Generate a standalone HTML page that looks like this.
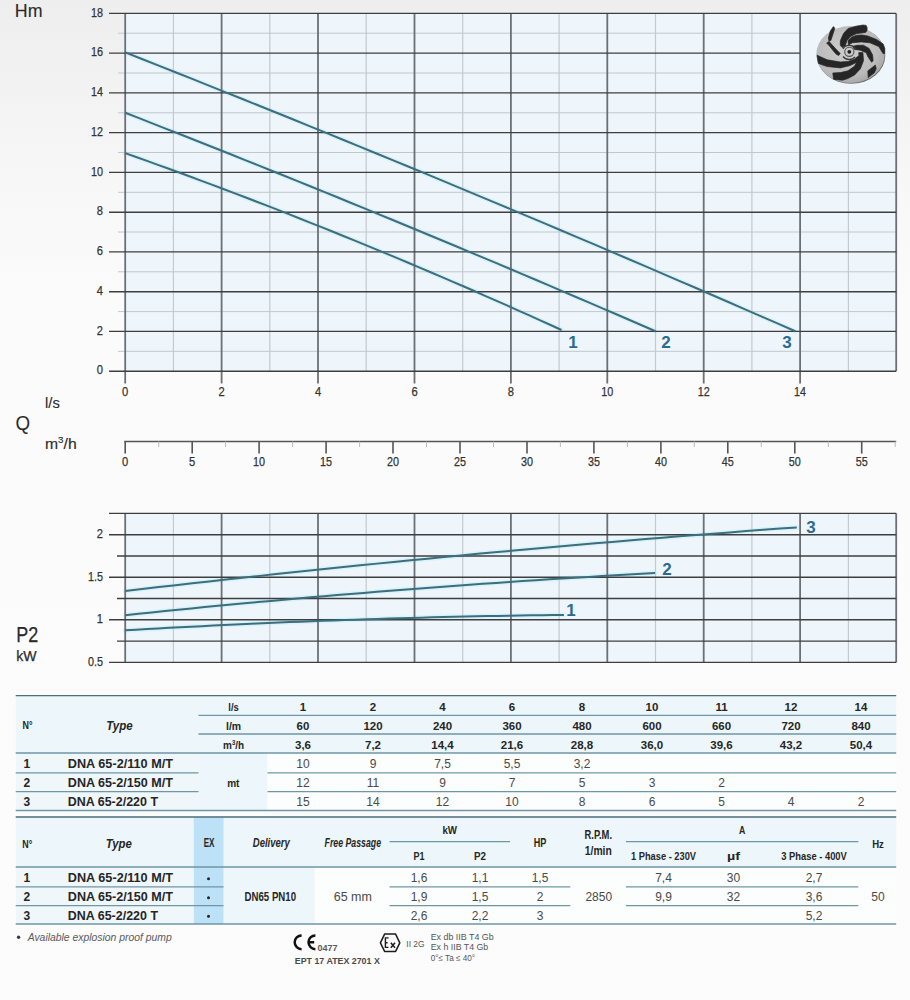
<!DOCTYPE html>
<html><head><meta charset="utf-8"><title>Pump curves</title>
<style>
html,body{margin:0;padding:0;}
body{width:910px;height:1000px;overflow:hidden;position:relative;font-family:"Liberation Sans", sans-serif;
background:linear-gradient(180deg,#eeeeee 0px,#f3f3f3 100px,#f8f8f8 200px,#fbfbfb 300px,#fcfcfc 1000px);}
svg{position:absolute;left:0;top:0;font-family:"Liberation Sans", sans-serif;}
</style></head><body>
<svg width="910" height="1000" viewBox="0 0 910 1000">
<rect x="125.2" y="13.360000000000014" width="771.0" height="357.84" fill="#eff6fb"/>
<path d="M125.20,153.12 L136.11,156.99 L147.02,160.90 L157.92,164.83 L168.83,168.79 L179.74,172.77 L190.65,176.79 L201.55,180.83 L212.46,184.90 L223.37,189.00 L234.28,193.13 L245.18,197.29 L256.09,201.47 L267.00,205.68 L277.91,209.92 L288.81,214.19 L299.72,218.49 L310.63,222.81 L321.54,227.16 L332.44,231.54 L343.35,235.95 L354.26,240.39 L365.17,244.85 L376.07,249.34 L386.98,253.86 L397.89,258.41 L408.80,262.99 L419.70,267.59 L430.61,272.22 L441.52,276.88 L452.43,281.57 L463.33,286.29 L474.24,291.03 L485.15,295.80 L496.06,300.60 L506.96,305.43 L517.87,310.29 L528.78,315.17 L539.69,320.08 L550.59,325.02 L561.50,329.99" fill="none" stroke="#c8f2fb" stroke-width="5" opacity="0.6" stroke-linecap="round"/>
<path d="M125.20,112.76 L138.46,117.93 L151.72,123.12 L164.97,128.32 L178.23,133.53 L191.49,138.76 L204.75,144.01 L218.00,149.27 L231.26,154.55 L244.52,159.84 L257.78,165.14 L271.04,170.46 L284.29,175.80 L297.55,181.15 L310.81,186.51 L324.07,191.89 L337.32,197.29 L350.58,202.70 L363.84,208.13 L377.10,213.57 L390.36,219.02 L403.61,224.49 L416.87,229.98 L430.13,235.48 L443.39,240.99 L456.64,246.52 L469.90,252.06 L483.16,257.62 L496.42,263.20 L509.67,268.79 L522.93,274.39 L536.19,280.01 L549.45,285.65 L562.71,291.30 L575.96,296.96 L589.22,302.64 L602.48,308.33 L615.74,314.04 L628.99,319.77 L642.25,325.50 L655.51,331.26" fill="none" stroke="#c8f2fb" stroke-width="5" opacity="0.6" stroke-linecap="round"/>
<path d="M125.20,52.38 L141.95,58.99 L158.71,65.62 L175.46,72.26 L192.21,78.92 L208.96,85.61 L225.72,92.31 L242.47,99.03 L259.22,105.76 L275.98,112.52 L292.73,119.29 L309.48,126.09 L326.24,132.90 L342.99,139.73 L359.74,146.58 L376.49,153.45 L393.25,160.34 L410.00,167.25 L426.75,174.17 L443.51,181.12 L460.26,188.08 L477.01,195.06 L493.77,202.06 L510.52,209.08 L527.27,216.12 L544.02,223.17 L560.78,230.25 L577.53,237.34 L594.28,244.45 L611.04,251.58 L627.79,258.73 L644.54,265.90 L661.30,273.09 L678.05,280.30 L694.80,287.52 L711.55,294.76 L728.31,302.03 L745.06,309.31 L761.81,316.61 L778.57,323.92 L795.32,331.26" fill="none" stroke="#c8f2fb" stroke-width="5" opacity="0.6" stroke-linecap="round"/>
<line x1="118.0" y1="351.3" x2="896.2" y2="351.3" stroke="#c0c8cc" stroke-width="1"/>
<line x1="118.0" y1="311.6" x2="896.2" y2="311.6" stroke="#c0c8cc" stroke-width="1"/>
<line x1="118.0" y1="271.8" x2="896.2" y2="271.8" stroke="#c0c8cc" stroke-width="1"/>
<line x1="118.0" y1="232.0" x2="896.2" y2="232.0" stroke="#c0c8cc" stroke-width="1"/>
<line x1="118.0" y1="192.3" x2="896.2" y2="192.3" stroke="#c0c8cc" stroke-width="1"/>
<line x1="118.0" y1="152.5" x2="896.2" y2="152.5" stroke="#c0c8cc" stroke-width="1"/>
<line x1="118.0" y1="112.8" x2="896.2" y2="112.8" stroke="#c0c8cc" stroke-width="1"/>
<line x1="118.0" y1="73.0" x2="800.1" y2="73.0" stroke="#c0c8cc" stroke-width="1"/>
<line x1="118.0" y1="33.2" x2="800.1" y2="33.2" stroke="#c0c8cc" stroke-width="1"/>
<line x1="173.4" y1="13.4" x2="173.4" y2="371.2" stroke="#c2cad0" stroke-width="1.2"/>
<line x1="269.8" y1="13.4" x2="269.8" y2="371.2" stroke="#c2cad0" stroke-width="1.2"/>
<line x1="366.2" y1="13.4" x2="366.2" y2="371.2" stroke="#c2cad0" stroke-width="1.2"/>
<line x1="462.7" y1="13.4" x2="462.7" y2="371.2" stroke="#c2cad0" stroke-width="1.2"/>
<line x1="559.1" y1="13.4" x2="559.1" y2="371.2" stroke="#c2cad0" stroke-width="1.2"/>
<line x1="655.5" y1="13.4" x2="655.5" y2="371.2" stroke="#c2cad0" stroke-width="1.2"/>
<line x1="751.9" y1="13.4" x2="751.9" y2="371.2" stroke="#c2cad0" stroke-width="1.2"/>
<line x1="848.4" y1="92.9" x2="848.4" y2="371.2" stroke="#c2cad0" stroke-width="1.2"/>
<line x1="125.2" y1="13.4" x2="125.2" y2="383.5" stroke="#6c7075" stroke-width="1.8"/>
<line x1="221.6" y1="13.4" x2="221.6" y2="383.5" stroke="#6c7075" stroke-width="1.8"/>
<line x1="318.0" y1="13.4" x2="318.0" y2="383.5" stroke="#6c7075" stroke-width="1.8"/>
<line x1="414.5" y1="13.4" x2="414.5" y2="383.5" stroke="#6c7075" stroke-width="1.8"/>
<line x1="510.9" y1="13.4" x2="510.9" y2="383.5" stroke="#6c7075" stroke-width="1.8"/>
<line x1="607.3" y1="13.4" x2="607.3" y2="383.5" stroke="#6c7075" stroke-width="1.8"/>
<line x1="703.7" y1="13.4" x2="703.7" y2="383.5" stroke="#6c7075" stroke-width="1.8"/>
<line x1="800.1" y1="13.4" x2="800.1" y2="383.5" stroke="#6c7075" stroke-width="1.8"/>
<line x1="896.2" y1="13.4" x2="896.2" y2="371.2" stroke="#6c7075" stroke-width="1.8"/>
<line x1="109.0" y1="371.2" x2="896.2" y2="371.2" stroke="#3e3e3e" stroke-width="1.4"/>
<line x1="109.0" y1="331.4" x2="896.2" y2="331.4" stroke="#3e3e3e" stroke-width="1.4"/>
<line x1="109.0" y1="291.7" x2="896.2" y2="291.7" stroke="#3e3e3e" stroke-width="1.4"/>
<line x1="109.0" y1="251.9" x2="896.2" y2="251.9" stroke="#3e3e3e" stroke-width="1.4"/>
<line x1="109.0" y1="212.2" x2="896.2" y2="212.2" stroke="#3e3e3e" stroke-width="1.4"/>
<line x1="109.0" y1="172.4" x2="896.2" y2="172.4" stroke="#3e3e3e" stroke-width="1.4"/>
<line x1="109.0" y1="132.6" x2="896.2" y2="132.6" stroke="#3e3e3e" stroke-width="1.4"/>
<line x1="109.0" y1="92.9" x2="896.2" y2="92.9" stroke="#3e3e3e" stroke-width="1.4"/>
<line x1="109.0" y1="53.1" x2="800.1" y2="53.1" stroke="#3e3e3e" stroke-width="1.4"/>
<line x1="109.0" y1="13.4" x2="896.2" y2="13.4" stroke="#3e3e3e" stroke-width="1.4"/>
<text x="103.0" y="374.4" font-size="12.5" text-anchor="end" font-weight="normal" fill="#333" textLength="6.2" lengthAdjust="spacingAndGlyphs" stroke="#333" stroke-width="0.25">0</text>
<text x="103.0" y="334.6" font-size="12.5" text-anchor="end" font-weight="normal" fill="#333" textLength="6.2" lengthAdjust="spacingAndGlyphs" stroke="#333" stroke-width="0.25">2</text>
<text x="103.0" y="294.9" font-size="12.5" text-anchor="end" font-weight="normal" fill="#333" textLength="6.2" lengthAdjust="spacingAndGlyphs" stroke="#333" stroke-width="0.25">4</text>
<text x="103.0" y="255.1" font-size="12.5" text-anchor="end" font-weight="normal" fill="#333" textLength="6.2" lengthAdjust="spacingAndGlyphs" stroke="#333" stroke-width="0.25">6</text>
<text x="103.0" y="215.4" font-size="12.5" text-anchor="end" font-weight="normal" fill="#333" textLength="6.2" lengthAdjust="spacingAndGlyphs" stroke="#333" stroke-width="0.25">8</text>
<text x="103.0" y="175.6" font-size="12.5" text-anchor="end" font-weight="normal" fill="#333" textLength="12" lengthAdjust="spacingAndGlyphs" stroke="#333" stroke-width="0.25">10</text>
<text x="103.0" y="135.8" font-size="12.5" text-anchor="end" font-weight="normal" fill="#333" textLength="12" lengthAdjust="spacingAndGlyphs" stroke="#333" stroke-width="0.25">12</text>
<text x="103.0" y="96.1" font-size="12.5" text-anchor="end" font-weight="normal" fill="#333" textLength="12" lengthAdjust="spacingAndGlyphs" stroke="#333" stroke-width="0.25">14</text>
<text x="103.0" y="56.3" font-size="12.5" text-anchor="end" font-weight="normal" fill="#333" textLength="12" lengthAdjust="spacingAndGlyphs" stroke="#333" stroke-width="0.25">16</text>
<text x="103.0" y="16.6" font-size="12.5" text-anchor="end" font-weight="normal" fill="#333" textLength="12" lengthAdjust="spacingAndGlyphs" stroke="#333" stroke-width="0.25">18</text>
<text x="125.2" y="395.6" font-size="12.5" text-anchor="middle" font-weight="normal" fill="#333" textLength="6.2" lengthAdjust="spacingAndGlyphs" stroke="#333" stroke-width="0.25">0</text>
<text x="221.6" y="395.6" font-size="12.5" text-anchor="middle" font-weight="normal" fill="#333" textLength="6.2" lengthAdjust="spacingAndGlyphs" stroke="#333" stroke-width="0.25">2</text>
<text x="318.0" y="395.6" font-size="12.5" text-anchor="middle" font-weight="normal" fill="#333" textLength="6.2" lengthAdjust="spacingAndGlyphs" stroke="#333" stroke-width="0.25">4</text>
<text x="414.5" y="395.6" font-size="12.5" text-anchor="middle" font-weight="normal" fill="#333" textLength="6.2" lengthAdjust="spacingAndGlyphs" stroke="#333" stroke-width="0.25">6</text>
<text x="510.9" y="395.6" font-size="12.5" text-anchor="middle" font-weight="normal" fill="#333" textLength="6.2" lengthAdjust="spacingAndGlyphs" stroke="#333" stroke-width="0.25">8</text>
<text x="607.3" y="395.6" font-size="12.5" text-anchor="middle" font-weight="normal" fill="#333" textLength="12" lengthAdjust="spacingAndGlyphs" stroke="#333" stroke-width="0.25">10</text>
<text x="703.7" y="395.6" font-size="12.5" text-anchor="middle" font-weight="normal" fill="#333" textLength="12" lengthAdjust="spacingAndGlyphs" stroke="#333" stroke-width="0.25">12</text>
<text x="800.1" y="395.6" font-size="12.5" text-anchor="middle" font-weight="normal" fill="#333" textLength="12" lengthAdjust="spacingAndGlyphs" stroke="#333" stroke-width="0.25">14</text>
<path d="M125.20,153.12 L136.11,156.99 L147.02,160.90 L157.92,164.83 L168.83,168.79 L179.74,172.77 L190.65,176.79 L201.55,180.83 L212.46,184.90 L223.37,189.00 L234.28,193.13 L245.18,197.29 L256.09,201.47 L267.00,205.68 L277.91,209.92 L288.81,214.19 L299.72,218.49 L310.63,222.81 L321.54,227.16 L332.44,231.54 L343.35,235.95 L354.26,240.39 L365.17,244.85 L376.07,249.34 L386.98,253.86 L397.89,258.41 L408.80,262.99 L419.70,267.59 L430.61,272.22 L441.52,276.88 L452.43,281.57 L463.33,286.29 L474.24,291.03 L485.15,295.80 L496.06,300.60 L506.96,305.43 L517.87,310.29 L528.78,315.17 L539.69,320.08 L550.59,325.02 L561.50,329.99" fill="none" stroke="#3e6d7b" stroke-width="2"/>
<path d="M125.20,112.76 L138.46,117.93 L151.72,123.12 L164.97,128.32 L178.23,133.53 L191.49,138.76 L204.75,144.01 L218.00,149.27 L231.26,154.55 L244.52,159.84 L257.78,165.14 L271.04,170.46 L284.29,175.80 L297.55,181.15 L310.81,186.51 L324.07,191.89 L337.32,197.29 L350.58,202.70 L363.84,208.13 L377.10,213.57 L390.36,219.02 L403.61,224.49 L416.87,229.98 L430.13,235.48 L443.39,240.99 L456.64,246.52 L469.90,252.06 L483.16,257.62 L496.42,263.20 L509.67,268.79 L522.93,274.39 L536.19,280.01 L549.45,285.65 L562.71,291.30 L575.96,296.96 L589.22,302.64 L602.48,308.33 L615.74,314.04 L628.99,319.77 L642.25,325.50 L655.51,331.26" fill="none" stroke="#3e6d7b" stroke-width="2"/>
<path d="M125.20,52.38 L141.95,58.99 L158.71,65.62 L175.46,72.26 L192.21,78.92 L208.96,85.61 L225.72,92.31 L242.47,99.03 L259.22,105.76 L275.98,112.52 L292.73,119.29 L309.48,126.09 L326.24,132.90 L342.99,139.73 L359.74,146.58 L376.49,153.45 L393.25,160.34 L410.00,167.25 L426.75,174.17 L443.51,181.12 L460.26,188.08 L477.01,195.06 L493.77,202.06 L510.52,209.08 L527.27,216.12 L544.02,223.17 L560.78,230.25 L577.53,237.34 L594.28,244.45 L611.04,251.58 L627.79,258.73 L644.54,265.90 L661.30,273.09 L678.05,280.30 L694.80,287.52 L711.55,294.76 L728.31,302.03 L745.06,309.31 L761.81,316.61 L778.57,323.92 L795.32,331.26" fill="none" stroke="#3e6d7b" stroke-width="2"/>
<text x="573.0" y="348.0" font-size="17" text-anchor="middle" font-weight="bold" fill="#2a6a93">1</text>
<text x="666.0" y="348.0" font-size="17" text-anchor="middle" font-weight="bold" fill="#2a6a93">2</text>
<text x="787.0" y="348.0" font-size="17" text-anchor="middle" font-weight="bold" fill="#2a6a93">3</text>
<text x="14.8" y="16.8" font-size="18.5" text-anchor="start" font-weight="normal" fill="#2a2a2a" textLength="27.7" lengthAdjust="spacingAndGlyphs" stroke="#2a2a2a" stroke-width="0.1">Hm</text>
<text x="45.0" y="407.6" font-size="15" text-anchor="start" font-weight="normal" fill="#2a2a2a" textLength="14.8" lengthAdjust="spacingAndGlyphs" stroke="#2a2a2a" stroke-width="0.12">l/s</text>
<text x="15.5" y="429.6" font-size="20.5" text-anchor="start" font-weight="normal" fill="#2a2a2a" textLength="14.6" lengthAdjust="spacingAndGlyphs">Q</text>
<text x="45.0" y="448.9" font-size="14.5" text-anchor="start" font-weight="normal" fill="#2a2a2a" textLength="31.7" lengthAdjust="spacingAndGlyphs" stroke="#2a2a2a" stroke-width="0.12">m<tspan font-size="9" dy="-5.5">3</tspan><tspan dy="5.5">/h</tspan></text>
<line x1="124.2" y1="441.5" x2="896.2" y2="441.5" stroke="#555" stroke-width="1.5"/>
<line x1="125.2" y1="441.5" x2="125.2" y2="453.6" stroke="#555" stroke-width="1.6"/>
<text x="125.2" y="466.2" font-size="12.5" text-anchor="middle" font-weight="normal" fill="#333" textLength="6.2" lengthAdjust="spacingAndGlyphs" stroke="#333" stroke-width="0.25">0</text>
<line x1="158.7" y1="441.5" x2="158.7" y2="447.0" stroke="#bbb" stroke-width="1"/>
<line x1="192.2" y1="441.5" x2="192.2" y2="453.6" stroke="#555" stroke-width="1.6"/>
<text x="192.2" y="466.2" font-size="12.5" text-anchor="middle" font-weight="normal" fill="#333" textLength="6.2" lengthAdjust="spacingAndGlyphs" stroke="#333" stroke-width="0.25">5</text>
<line x1="225.6" y1="441.5" x2="225.6" y2="447.0" stroke="#bbb" stroke-width="1"/>
<line x1="259.1" y1="441.5" x2="259.1" y2="453.6" stroke="#555" stroke-width="1.6"/>
<text x="259.1" y="466.2" font-size="12.5" text-anchor="middle" font-weight="normal" fill="#333" textLength="12" lengthAdjust="spacingAndGlyphs" stroke="#333" stroke-width="0.25">10</text>
<line x1="292.6" y1="441.5" x2="292.6" y2="447.0" stroke="#bbb" stroke-width="1"/>
<line x1="326.1" y1="441.5" x2="326.1" y2="453.6" stroke="#555" stroke-width="1.6"/>
<text x="326.1" y="466.2" font-size="12.5" text-anchor="middle" font-weight="normal" fill="#333" textLength="12" lengthAdjust="spacingAndGlyphs" stroke="#333" stroke-width="0.25">15</text>
<line x1="359.6" y1="441.5" x2="359.6" y2="447.0" stroke="#bbb" stroke-width="1"/>
<line x1="393.0" y1="441.5" x2="393.0" y2="453.6" stroke="#555" stroke-width="1.6"/>
<text x="393.0" y="466.2" font-size="12.5" text-anchor="middle" font-weight="normal" fill="#333" textLength="12" lengthAdjust="spacingAndGlyphs" stroke="#333" stroke-width="0.25">20</text>
<line x1="426.5" y1="441.5" x2="426.5" y2="447.0" stroke="#bbb" stroke-width="1"/>
<line x1="460.0" y1="441.5" x2="460.0" y2="453.6" stroke="#555" stroke-width="1.6"/>
<text x="460.0" y="466.2" font-size="12.5" text-anchor="middle" font-weight="normal" fill="#333" textLength="12" lengthAdjust="spacingAndGlyphs" stroke="#333" stroke-width="0.25">25</text>
<line x1="493.5" y1="441.5" x2="493.5" y2="447.0" stroke="#bbb" stroke-width="1"/>
<line x1="527.0" y1="441.5" x2="527.0" y2="453.6" stroke="#555" stroke-width="1.6"/>
<text x="527.0" y="466.2" font-size="12.5" text-anchor="middle" font-weight="normal" fill="#333" textLength="12" lengthAdjust="spacingAndGlyphs" stroke="#333" stroke-width="0.25">30</text>
<line x1="560.4" y1="441.5" x2="560.4" y2="447.0" stroke="#bbb" stroke-width="1"/>
<line x1="593.9" y1="441.5" x2="593.9" y2="453.6" stroke="#555" stroke-width="1.6"/>
<text x="593.9" y="466.2" font-size="12.5" text-anchor="middle" font-weight="normal" fill="#333" textLength="12" lengthAdjust="spacingAndGlyphs" stroke="#333" stroke-width="0.25">35</text>
<line x1="627.4" y1="441.5" x2="627.4" y2="447.0" stroke="#bbb" stroke-width="1"/>
<line x1="660.9" y1="441.5" x2="660.9" y2="453.6" stroke="#555" stroke-width="1.6"/>
<text x="660.9" y="466.2" font-size="12.5" text-anchor="middle" font-weight="normal" fill="#333" textLength="12" lengthAdjust="spacingAndGlyphs" stroke="#333" stroke-width="0.25">40</text>
<line x1="694.3" y1="441.5" x2="694.3" y2="447.0" stroke="#bbb" stroke-width="1"/>
<line x1="727.8" y1="441.5" x2="727.8" y2="453.6" stroke="#555" stroke-width="1.6"/>
<text x="727.8" y="466.2" font-size="12.5" text-anchor="middle" font-weight="normal" fill="#333" textLength="12" lengthAdjust="spacingAndGlyphs" stroke="#333" stroke-width="0.25">45</text>
<line x1="761.3" y1="441.5" x2="761.3" y2="447.0" stroke="#bbb" stroke-width="1"/>
<line x1="794.8" y1="441.5" x2="794.8" y2="453.6" stroke="#555" stroke-width="1.6"/>
<text x="794.8" y="466.2" font-size="12.5" text-anchor="middle" font-weight="normal" fill="#333" textLength="12" lengthAdjust="spacingAndGlyphs" stroke="#333" stroke-width="0.25">50</text>
<line x1="828.3" y1="441.5" x2="828.3" y2="447.0" stroke="#bbb" stroke-width="1"/>
<line x1="861.7" y1="441.5" x2="861.7" y2="453.6" stroke="#555" stroke-width="1.6"/>
<text x="861.7" y="466.2" font-size="12.5" text-anchor="middle" font-weight="normal" fill="#333" textLength="12" lengthAdjust="spacingAndGlyphs" stroke="#333" stroke-width="0.25">55</text>
<line x1="895.2" y1="441.5" x2="895.2" y2="447.0" stroke="#bbb" stroke-width="1"/>
<rect x="125.2" y="513.405" width="771.0" height="148.995" fill="#eff6fb"/>
<path d="M125.20,630.33 L136.17,629.69 L147.14,629.06 L158.10,628.45 L169.07,627.85 L180.04,627.26 L191.01,626.69 L201.97,626.13 L212.94,625.58 L223.91,625.04 L234.88,624.52 L245.85,624.01 L256.81,623.52 L267.78,623.03 L278.75,622.56 L289.72,622.10 L300.68,621.66 L311.65,621.23 L322.62,620.81 L333.59,620.41 L344.56,620.01 L355.52,619.63 L366.49,619.27 L377.46,618.91 L388.43,618.57 L399.39,618.25 L410.36,617.93 L421.33,617.63 L432.30,617.34 L443.27,617.07 L454.23,616.81 L465.20,616.56 L476.17,616.32 L487.14,616.10 L498.10,615.89 L509.07,615.69 L520.04,615.50 L531.01,615.33 L541.98,615.17 L552.94,615.03 L563.91,614.90" fill="none" stroke="#c8f2fb" stroke-width="5" opacity="0.6" stroke-linecap="round"/>
<path d="M125.20,615.16 L138.45,613.78 L151.69,612.41 L164.94,611.06 L178.18,609.73 L191.43,608.42 L204.67,607.12 L217.92,605.84 L231.17,604.58 L244.41,603.33 L257.66,602.10 L270.90,600.89 L284.15,599.70 L297.39,598.52 L310.64,597.36 L323.89,596.21 L337.13,595.08 L350.38,593.97 L363.62,592.88 L376.87,591.80 L390.11,590.74 L403.36,589.70 L416.61,588.68 L429.85,587.67 L443.10,586.68 L456.34,585.70 L469.59,584.74 L482.83,583.80 L496.08,582.88 L509.33,581.97 L522.57,581.08 L535.82,580.21 L549.06,579.35 L562.31,578.51 L575.55,577.69 L588.80,576.89 L602.05,576.10 L615.29,575.33 L628.54,574.57 L641.78,573.83 L655.03,573.11" fill="none" stroke="#c8f2fb" stroke-width="5" opacity="0.6" stroke-linecap="round"/>
<path d="M125.20,590.98 L141.99,589.03 L158.78,587.09 L175.57,585.17 L192.36,583.27 L209.15,581.39 L225.93,579.53 L242.72,577.69 L259.51,575.87 L276.30,574.06 L293.09,572.28 L309.88,570.51 L326.67,568.76 L343.46,567.03 L360.25,565.32 L377.04,563.62 L393.83,561.95 L410.62,560.29 L427.40,558.66 L444.19,557.04 L460.98,555.44 L477.77,553.86 L494.56,552.30 L511.35,550.76 L528.14,549.23 L544.93,547.73 L561.72,546.24 L578.51,544.77 L595.30,543.32 L612.08,541.89 L628.87,540.48 L645.66,539.08 L662.45,537.71 L679.24,536.35 L696.03,535.02 L712.82,533.70 L729.61,532.40 L746.40,531.12 L763.19,529.86 L779.98,528.61 L796.77,527.39" fill="none" stroke="#c8f2fb" stroke-width="5" opacity="0.6" stroke-linecap="round"/>
<line x1="173.4" y1="513.4" x2="173.4" y2="662.4" stroke="#c2cad0" stroke-width="1.2"/>
<line x1="269.8" y1="513.4" x2="269.8" y2="662.4" stroke="#c2cad0" stroke-width="1.2"/>
<line x1="366.2" y1="513.4" x2="366.2" y2="662.4" stroke="#c2cad0" stroke-width="1.2"/>
<line x1="462.7" y1="513.4" x2="462.7" y2="662.4" stroke="#c2cad0" stroke-width="1.2"/>
<line x1="559.1" y1="513.4" x2="559.1" y2="662.4" stroke="#c2cad0" stroke-width="1.2"/>
<line x1="655.5" y1="513.4" x2="655.5" y2="662.4" stroke="#c2cad0" stroke-width="1.2"/>
<line x1="751.9" y1="513.4" x2="751.9" y2="662.4" stroke="#c2cad0" stroke-width="1.2"/>
<line x1="848.4" y1="513.4" x2="848.4" y2="662.4" stroke="#c2cad0" stroke-width="1.2"/>
<line x1="125.2" y1="513.4" x2="125.2" y2="662.4" stroke="#6c7075" stroke-width="1.8"/>
<line x1="221.6" y1="513.4" x2="221.6" y2="662.4" stroke="#6c7075" stroke-width="1.8"/>
<line x1="318.0" y1="513.4" x2="318.0" y2="662.4" stroke="#6c7075" stroke-width="1.8"/>
<line x1="414.5" y1="513.4" x2="414.5" y2="662.4" stroke="#6c7075" stroke-width="1.8"/>
<line x1="510.9" y1="513.4" x2="510.9" y2="662.4" stroke="#6c7075" stroke-width="1.8"/>
<line x1="607.3" y1="513.4" x2="607.3" y2="662.4" stroke="#6c7075" stroke-width="1.8"/>
<line x1="703.7" y1="513.4" x2="703.7" y2="662.4" stroke="#6c7075" stroke-width="1.8"/>
<line x1="800.1" y1="513.4" x2="800.1" y2="662.4" stroke="#6c7075" stroke-width="1.8"/>
<line x1="896.2" y1="513.4" x2="896.2" y2="662.4" stroke="#6c7075" stroke-width="1.8"/>
<line x1="109.0" y1="662.4" x2="896.2" y2="662.4" stroke="#3e3e3e" stroke-width="1.4"/>
<line x1="117.0" y1="641.1" x2="896.2" y2="641.1" stroke="#3e3e3e" stroke-width="1.4"/>
<line x1="109.0" y1="619.8" x2="896.2" y2="619.8" stroke="#3e3e3e" stroke-width="1.4"/>
<line x1="117.0" y1="598.5" x2="896.2" y2="598.5" stroke="#3e3e3e" stroke-width="1.4"/>
<line x1="109.0" y1="577.3" x2="896.2" y2="577.3" stroke="#3e3e3e" stroke-width="1.4"/>
<line x1="117.0" y1="556.0" x2="896.2" y2="556.0" stroke="#3e3e3e" stroke-width="1.4"/>
<line x1="109.0" y1="534.7" x2="896.2" y2="534.7" stroke="#3e3e3e" stroke-width="1.4"/>
<line x1="109.0" y1="513.4" x2="896.2" y2="513.4" stroke="#3e3e3e" stroke-width="1.4"/>
<text x="103.0" y="537.9" font-size="12.5" text-anchor="end" font-weight="normal" fill="#333" textLength="6.2" lengthAdjust="spacingAndGlyphs" stroke="#333" stroke-width="0.25">2</text>
<text x="103.0" y="580.5" font-size="12.5" text-anchor="end" font-weight="normal" fill="#333" textLength="15" lengthAdjust="spacingAndGlyphs" stroke="#333" stroke-width="0.25">1.5</text>
<text x="103.0" y="623.0" font-size="12.5" text-anchor="end" font-weight="normal" fill="#333" textLength="6.2" lengthAdjust="spacingAndGlyphs" stroke="#333" stroke-width="0.25">1</text>
<text x="103.0" y="665.6" font-size="12.5" text-anchor="end" font-weight="normal" fill="#333" textLength="15" lengthAdjust="spacingAndGlyphs" stroke="#333" stroke-width="0.25">0.5</text>
<path d="M125.20,630.33 L136.17,629.69 L147.14,629.06 L158.10,628.45 L169.07,627.85 L180.04,627.26 L191.01,626.69 L201.97,626.13 L212.94,625.58 L223.91,625.04 L234.88,624.52 L245.85,624.01 L256.81,623.52 L267.78,623.03 L278.75,622.56 L289.72,622.10 L300.68,621.66 L311.65,621.23 L322.62,620.81 L333.59,620.41 L344.56,620.01 L355.52,619.63 L366.49,619.27 L377.46,618.91 L388.43,618.57 L399.39,618.25 L410.36,617.93 L421.33,617.63 L432.30,617.34 L443.27,617.07 L454.23,616.81 L465.20,616.56 L476.17,616.32 L487.14,616.10 L498.10,615.89 L509.07,615.69 L520.04,615.50 L531.01,615.33 L541.98,615.17 L552.94,615.03 L563.91,614.90" fill="none" stroke="#3e6d7b" stroke-width="2"/>
<path d="M125.20,615.16 L138.45,613.78 L151.69,612.41 L164.94,611.06 L178.18,609.73 L191.43,608.42 L204.67,607.12 L217.92,605.84 L231.17,604.58 L244.41,603.33 L257.66,602.10 L270.90,600.89 L284.15,599.70 L297.39,598.52 L310.64,597.36 L323.89,596.21 L337.13,595.08 L350.38,593.97 L363.62,592.88 L376.87,591.80 L390.11,590.74 L403.36,589.70 L416.61,588.68 L429.85,587.67 L443.10,586.68 L456.34,585.70 L469.59,584.74 L482.83,583.80 L496.08,582.88 L509.33,581.97 L522.57,581.08 L535.82,580.21 L549.06,579.35 L562.31,578.51 L575.55,577.69 L588.80,576.89 L602.05,576.10 L615.29,575.33 L628.54,574.57 L641.78,573.83 L655.03,573.11" fill="none" stroke="#3e6d7b" stroke-width="2"/>
<path d="M125.20,590.98 L141.99,589.03 L158.78,587.09 L175.57,585.17 L192.36,583.27 L209.15,581.39 L225.93,579.53 L242.72,577.69 L259.51,575.87 L276.30,574.06 L293.09,572.28 L309.88,570.51 L326.67,568.76 L343.46,567.03 L360.25,565.32 L377.04,563.62 L393.83,561.95 L410.62,560.29 L427.40,558.66 L444.19,557.04 L460.98,555.44 L477.77,553.86 L494.56,552.30 L511.35,550.76 L528.14,549.23 L544.93,547.73 L561.72,546.24 L578.51,544.77 L595.30,543.32 L612.08,541.89 L628.87,540.48 L645.66,539.08 L662.45,537.71 L679.24,536.35 L696.03,535.02 L712.82,533.70 L729.61,532.40 L746.40,531.12 L763.19,529.86 L779.98,528.61 L796.77,527.39" fill="none" stroke="#3e6d7b" stroke-width="2"/>
<text x="571.0" y="616.0" font-size="17" text-anchor="middle" font-weight="bold" fill="#2a6a93">1</text>
<text x="667.0" y="575.0" font-size="17" text-anchor="middle" font-weight="bold" fill="#2a6a93">2</text>
<text x="811.0" y="533.0" font-size="17" text-anchor="middle" font-weight="bold" fill="#2a6a93">3</text>
<text x="16.3" y="641.8" font-size="22" text-anchor="start" font-weight="normal" fill="#2a2a2a" textLength="22" lengthAdjust="spacingAndGlyphs" stroke="#2a2a2a" stroke-width="0.25">P2</text>
<text x="16.2" y="661.2" font-size="15" text-anchor="start" font-weight="normal" fill="#2a2a2a" textLength="20.4" lengthAdjust="spacingAndGlyphs" stroke="#2a2a2a" stroke-width="0.25">kW</text>
<rect x="15.7" y="695.6" width="880.5" height="57.3" fill="#edf6fa"/>
<rect x="15.7" y="752.9" width="182.8" height="57.7" fill="#f0f7fa"/>
<rect x="198.5" y="752.9" width="69.0" height="57.7" fill="#edf6fa"/>
<rect x="267.5" y="752.9" width="628.7" height="57.7" fill="#fcfdfd"/>
<line x1="15.7" y1="695.6" x2="896.2" y2="695.6" stroke="#4d6d7a" stroke-width="1.3"/>
<line x1="198.5" y1="715.3" x2="896.2" y2="715.3" stroke="#6f96a6" stroke-width="1.3"/>
<line x1="198.5" y1="734.0" x2="896.2" y2="734.0" stroke="#6f96a6" stroke-width="1.3"/>
<line x1="15.7" y1="752.9" x2="896.2" y2="752.9" stroke="#6f96a6" stroke-width="1.5"/>
<line x1="15.7" y1="772.8" x2="198.5" y2="772.8" stroke="#6f96a6" stroke-width="1.3"/>
<line x1="267.5" y1="772.8" x2="896.2" y2="772.8" stroke="#6f96a6" stroke-width="1.3"/>
<line x1="15.7" y1="791.6" x2="198.5" y2="791.6" stroke="#6f96a6" stroke-width="1.3"/>
<line x1="267.5" y1="791.6" x2="896.2" y2="791.6" stroke="#6f96a6" stroke-width="1.3"/>
<line x1="15.7" y1="810.6" x2="896.2" y2="810.6" stroke="#6f96a6" stroke-width="1.5"/>
<text x="303.0" y="711.0" font-size="11.5" text-anchor="middle" font-weight="bold" fill="#262626">1</text>
<text x="373.0" y="711.0" font-size="11.5" text-anchor="middle" font-weight="bold" fill="#262626">2</text>
<text x="442.5" y="711.0" font-size="11.5" text-anchor="middle" font-weight="bold" fill="#262626">4</text>
<text x="512.0" y="711.0" font-size="11.5" text-anchor="middle" font-weight="bold" fill="#262626">6</text>
<text x="582.0" y="711.0" font-size="11.5" text-anchor="middle" font-weight="bold" fill="#262626">8</text>
<text x="652.0" y="711.0" font-size="11.5" text-anchor="middle" font-weight="bold" fill="#262626">10</text>
<text x="721.5" y="711.0" font-size="11.5" text-anchor="middle" font-weight="bold" fill="#262626">11</text>
<text x="791.0" y="711.0" font-size="11.5" text-anchor="middle" font-weight="bold" fill="#262626">12</text>
<text x="861.0" y="711.0" font-size="11.5" text-anchor="middle" font-weight="bold" fill="#262626">14</text>
<text x="303.0" y="729.6" font-size="11.5" text-anchor="middle" font-weight="bold" fill="#262626">60</text>
<text x="373.0" y="729.6" font-size="11.5" text-anchor="middle" font-weight="bold" fill="#262626">120</text>
<text x="442.5" y="729.6" font-size="11.5" text-anchor="middle" font-weight="bold" fill="#262626">240</text>
<text x="512.0" y="729.6" font-size="11.5" text-anchor="middle" font-weight="bold" fill="#262626">360</text>
<text x="582.0" y="729.6" font-size="11.5" text-anchor="middle" font-weight="bold" fill="#262626">480</text>
<text x="652.0" y="729.6" font-size="11.5" text-anchor="middle" font-weight="bold" fill="#262626">600</text>
<text x="721.5" y="729.6" font-size="11.5" text-anchor="middle" font-weight="bold" fill="#262626">660</text>
<text x="791.0" y="729.6" font-size="11.5" text-anchor="middle" font-weight="bold" fill="#262626">720</text>
<text x="861.0" y="729.6" font-size="11.5" text-anchor="middle" font-weight="bold" fill="#262626">840</text>
<text x="303.0" y="748.6" font-size="11.5" text-anchor="middle" font-weight="bold" fill="#262626">3,6</text>
<text x="373.0" y="748.6" font-size="11.5" text-anchor="middle" font-weight="bold" fill="#262626">7,2</text>
<text x="442.5" y="748.6" font-size="11.5" text-anchor="middle" font-weight="bold" fill="#262626">14,4</text>
<text x="512.0" y="748.6" font-size="11.5" text-anchor="middle" font-weight="bold" fill="#262626">21,6</text>
<text x="582.0" y="748.6" font-size="11.5" text-anchor="middle" font-weight="bold" fill="#262626">28,8</text>
<text x="652.0" y="748.6" font-size="11.5" text-anchor="middle" font-weight="bold" fill="#262626">36,0</text>
<text x="721.5" y="748.6" font-size="11.5" text-anchor="middle" font-weight="bold" fill="#262626">39,6</text>
<text x="791.0" y="748.6" font-size="11.5" text-anchor="middle" font-weight="bold" fill="#262626">43,2</text>
<text x="861.0" y="748.6" font-size="11.5" text-anchor="middle" font-weight="bold" fill="#262626">50,4</text>
<text x="233.6" y="711.0" font-size="11.5" text-anchor="middle" font-weight="bold" fill="#262626" textLength="10.5" lengthAdjust="spacingAndGlyphs">l/s</text>
<text x="233.6" y="729.6" font-size="11.5" text-anchor="middle" font-weight="bold" fill="#262626" textLength="15.1" lengthAdjust="spacingAndGlyphs">l/m</text>
<text x="233.6" y="748.6" font-size="11.5" text-anchor="middle" font-weight="bold" fill="#262626" textLength="21.1" lengthAdjust="spacingAndGlyphs">m<tspan font-size="7" dy="-4">3</tspan><tspan dy="4">/h</tspan></text>
<text x="22.5" y="729.0" font-size="11" text-anchor="start" font-weight="bold" fill="#262626" textLength="10" lengthAdjust="spacingAndGlyphs">N°</text>
<text x="119.4" y="730.0" font-size="12.5" text-anchor="middle" font-weight="bold" fill="#262626" font-style="italic" textLength="26.5" lengthAdjust="spacingAndGlyphs">Type</text>
<text x="26.8" y="768.2" font-size="12" text-anchor="middle" font-weight="bold" fill="#262626">1</text>
<text x="67.8" y="768.2" font-size="12" text-anchor="start" font-weight="bold" fill="#262626" textLength="105.2" lengthAdjust="spacingAndGlyphs">DNA 65-2/110 M/T</text>
<text x="303.0" y="768.2" font-size="12" text-anchor="middle" font-weight="normal" fill="#4a4a4a">10</text>
<text x="373.0" y="768.2" font-size="12" text-anchor="middle" font-weight="normal" fill="#4a4a4a">9</text>
<text x="442.5" y="768.2" font-size="12" text-anchor="middle" font-weight="normal" fill="#4a4a4a">7,5</text>
<text x="512.0" y="768.2" font-size="12" text-anchor="middle" font-weight="normal" fill="#4a4a4a">5,5</text>
<text x="582.0" y="768.2" font-size="12" text-anchor="middle" font-weight="normal" fill="#4a4a4a">3,2</text>
<text x="26.8" y="787.4" font-size="12" text-anchor="middle" font-weight="bold" fill="#262626">2</text>
<text x="67.8" y="787.4" font-size="12" text-anchor="start" font-weight="bold" fill="#262626" textLength="105.2" lengthAdjust="spacingAndGlyphs">DNA 65-2/150 M/T</text>
<text x="303.0" y="787.4" font-size="12" text-anchor="middle" font-weight="normal" fill="#4a4a4a">12</text>
<text x="373.0" y="787.4" font-size="12" text-anchor="middle" font-weight="normal" fill="#4a4a4a">11</text>
<text x="442.5" y="787.4" font-size="12" text-anchor="middle" font-weight="normal" fill="#4a4a4a">9</text>
<text x="512.0" y="787.4" font-size="12" text-anchor="middle" font-weight="normal" fill="#4a4a4a">7</text>
<text x="582.0" y="787.4" font-size="12" text-anchor="middle" font-weight="normal" fill="#4a4a4a">5</text>
<text x="652.0" y="787.4" font-size="12" text-anchor="middle" font-weight="normal" fill="#4a4a4a">3</text>
<text x="721.5" y="787.4" font-size="12" text-anchor="middle" font-weight="normal" fill="#4a4a4a">2</text>
<text x="26.8" y="806.2" font-size="12" text-anchor="middle" font-weight="bold" fill="#262626">3</text>
<text x="67.8" y="806.2" font-size="12" text-anchor="start" font-weight="bold" fill="#262626" textLength="90.2" lengthAdjust="spacingAndGlyphs">DNA 65-2/220 T</text>
<text x="303.0" y="806.2" font-size="12" text-anchor="middle" font-weight="normal" fill="#4a4a4a">15</text>
<text x="373.0" y="806.2" font-size="12" text-anchor="middle" font-weight="normal" fill="#4a4a4a">14</text>
<text x="442.5" y="806.2" font-size="12" text-anchor="middle" font-weight="normal" fill="#4a4a4a">12</text>
<text x="512.0" y="806.2" font-size="12" text-anchor="middle" font-weight="normal" fill="#4a4a4a">10</text>
<text x="582.0" y="806.2" font-size="12" text-anchor="middle" font-weight="normal" fill="#4a4a4a">8</text>
<text x="652.0" y="806.2" font-size="12" text-anchor="middle" font-weight="normal" fill="#4a4a4a">6</text>
<text x="721.5" y="806.2" font-size="12" text-anchor="middle" font-weight="normal" fill="#4a4a4a">5</text>
<text x="791.0" y="806.2" font-size="12" text-anchor="middle" font-weight="normal" fill="#4a4a4a">4</text>
<text x="861.0" y="806.2" font-size="12" text-anchor="middle" font-weight="normal" fill="#4a4a4a">2</text>
<text x="233.3" y="787.4" font-size="11.5" text-anchor="middle" font-weight="bold" fill="#262626" textLength="12.3" lengthAdjust="spacingAndGlyphs">mt</text>
<rect x="15.7" y="817.0" width="880.5" height="50.0" fill="#edf6fa"/>
<rect x="15.7" y="867.0" width="178.1" height="57.0" fill="#f0f7fa"/>
<rect x="223.5" y="867.0" width="91.3" height="57.0" fill="#edf6fa"/>
<rect x="314.8" y="867.0" width="581.4" height="57.0" fill="#fcfdfd"/>
<rect x="193.8" y="817.0" width="29.7" height="107.0" fill="#bde1f6"/>
<line x1="15.7" y1="817.0" x2="896.2" y2="817.0" stroke="#4d6d7a" stroke-width="1.3"/>
<line x1="389.5" y1="841.7" x2="510.0" y2="841.7" stroke="#6f96a6" stroke-width="1.3"/>
<line x1="626.0" y1="841.7" x2="858.3" y2="841.7" stroke="#6f96a6" stroke-width="1.3"/>
<line x1="15.7" y1="867.0" x2="896.2" y2="867.0" stroke="#6f96a6" stroke-width="1.5"/>
<line x1="15.7" y1="886.8" x2="223.5" y2="886.8" stroke="#6f96a6" stroke-width="1.3"/>
<line x1="389.5" y1="886.8" x2="570.3" y2="886.8" stroke="#6f96a6" stroke-width="1.3"/>
<line x1="626.0" y1="886.8" x2="858.3" y2="886.8" stroke="#6f96a6" stroke-width="1.3"/>
<line x1="15.7" y1="905.6" x2="223.5" y2="905.6" stroke="#6f96a6" stroke-width="1.3"/>
<line x1="389.5" y1="905.6" x2="570.3" y2="905.6" stroke="#6f96a6" stroke-width="1.3"/>
<line x1="626.0" y1="905.6" x2="858.3" y2="905.6" stroke="#6f96a6" stroke-width="1.3"/>
<line x1="15.7" y1="924.0" x2="896.2" y2="924.0" stroke="#6f96a6" stroke-width="1.5"/>
<text x="22.3" y="847.6" font-size="11" text-anchor="start" font-weight="bold" fill="#262626" textLength="10" lengthAdjust="spacingAndGlyphs">N°</text>
<text x="118.7" y="847.6" font-size="12.5" text-anchor="middle" font-weight="bold" fill="#262626" font-style="italic" textLength="26.1" lengthAdjust="spacingAndGlyphs">Type</text>
<text x="209.1" y="847.4" font-size="13" text-anchor="middle" font-weight="bold" fill="#262626" textLength="10.8" lengthAdjust="spacingAndGlyphs">EX</text>
<text x="271.3" y="847.4" font-size="12" text-anchor="middle" font-weight="bold" fill="#262626" font-style="italic" textLength="37" lengthAdjust="spacingAndGlyphs">Delivery</text>
<text x="352.8" y="847.4" font-size="12" text-anchor="middle" font-weight="bold" fill="#262626" font-style="italic" textLength="56.4" lengthAdjust="spacingAndGlyphs">Free Passage</text>
<text x="449.7" y="834.2" font-size="11.5" text-anchor="middle" font-weight="bold" fill="#262626" textLength="14.6" lengthAdjust="spacingAndGlyphs">kW</text>
<text x="419.0" y="859.7" font-size="11.5" text-anchor="middle" font-weight="bold" fill="#262626" textLength="11" lengthAdjust="spacingAndGlyphs">P1</text>
<text x="480.0" y="859.7" font-size="11.5" text-anchor="middle" font-weight="bold" fill="#262626" textLength="12" lengthAdjust="spacingAndGlyphs">P2</text>
<text x="540.0" y="847.2" font-size="12.8" text-anchor="middle" font-weight="bold" fill="#262626" textLength="12.6" lengthAdjust="spacingAndGlyphs">HP</text>
<text x="598.3" y="839.1" font-size="12.5" text-anchor="middle" font-weight="bold" fill="#262626" textLength="27.4" lengthAdjust="spacingAndGlyphs">R.P.M.</text>
<text x="598.3" y="855.0" font-size="12.3" text-anchor="middle" font-weight="bold" fill="#262626" textLength="27" lengthAdjust="spacingAndGlyphs">1/min</text>
<text x="742.2" y="833.8" font-size="11.5" text-anchor="middle" font-weight="bold" fill="#262626" textLength="6.3" lengthAdjust="spacingAndGlyphs">A</text>
<text x="663.5" y="859.7" font-size="11.5" text-anchor="middle" font-weight="bold" fill="#262626" textLength="65" lengthAdjust="spacingAndGlyphs">1 Phase - 230V</text>
<text x="733.5" y="859.7" font-size="11.5" text-anchor="middle" font-weight="bold" fill="#262626" textLength="13" lengthAdjust="spacingAndGlyphs">µf</text>
<text x="814.0" y="859.7" font-size="11.5" text-anchor="middle" font-weight="bold" fill="#262626" textLength="65.7" lengthAdjust="spacingAndGlyphs">3 Phase - 400V</text>
<text x="878.0" y="847.6" font-size="11.5" text-anchor="middle" font-weight="bold" fill="#262626" textLength="11.7" lengthAdjust="spacingAndGlyphs">Hz</text>
<text x="26.8" y="882.2" font-size="12" text-anchor="middle" font-weight="bold" fill="#262626">1</text>
<text x="67.8" y="882.2" font-size="12" text-anchor="start" font-weight="bold" fill="#262626" textLength="105.2" lengthAdjust="spacingAndGlyphs">DNA 65-2/110 M/T</text>
<circle cx="208.5" cy="878.7" r="1.5" fill="#222"/>
<text x="419.0" y="882.2" font-size="12" text-anchor="middle" font-weight="normal" fill="#4a4a4a">1,6</text>
<text x="480.0" y="882.2" font-size="12" text-anchor="middle" font-weight="normal" fill="#4a4a4a">1,1</text>
<text x="540.0" y="882.2" font-size="12" text-anchor="middle" font-weight="normal" fill="#4a4a4a">1,5</text>
<text x="663.5" y="882.2" font-size="12" text-anchor="middle" font-weight="normal" fill="#4a4a4a">7,4</text>
<text x="733.5" y="882.2" font-size="12" text-anchor="middle" font-weight="normal" fill="#4a4a4a">30</text>
<text x="814.0" y="882.2" font-size="12" text-anchor="middle" font-weight="normal" fill="#4a4a4a">2,7</text>
<text x="26.8" y="901.2" font-size="12" text-anchor="middle" font-weight="bold" fill="#262626">2</text>
<text x="67.8" y="901.2" font-size="12" text-anchor="start" font-weight="bold" fill="#262626" textLength="105.2" lengthAdjust="spacingAndGlyphs">DNA 65-2/150 M/T</text>
<circle cx="208.5" cy="897.7" r="1.5" fill="#222"/>
<text x="419.0" y="901.2" font-size="12" text-anchor="middle" font-weight="normal" fill="#4a4a4a">1,9</text>
<text x="480.0" y="901.2" font-size="12" text-anchor="middle" font-weight="normal" fill="#4a4a4a">1,5</text>
<text x="540.0" y="901.2" font-size="12" text-anchor="middle" font-weight="normal" fill="#4a4a4a">2</text>
<text x="663.5" y="901.2" font-size="12" text-anchor="middle" font-weight="normal" fill="#4a4a4a">9,9</text>
<text x="733.5" y="901.2" font-size="12" text-anchor="middle" font-weight="normal" fill="#4a4a4a">32</text>
<text x="814.0" y="901.2" font-size="12" text-anchor="middle" font-weight="normal" fill="#4a4a4a">3,6</text>
<text x="26.8" y="919.8" font-size="12" text-anchor="middle" font-weight="bold" fill="#262626">3</text>
<text x="67.8" y="919.8" font-size="12" text-anchor="start" font-weight="bold" fill="#262626" textLength="90.2" lengthAdjust="spacingAndGlyphs">DNA 65-2/220 T</text>
<circle cx="208.5" cy="916.3" r="1.5" fill="#222"/>
<text x="419.0" y="919.8" font-size="12" text-anchor="middle" font-weight="normal" fill="#4a4a4a">2,6</text>
<text x="480.0" y="919.8" font-size="12" text-anchor="middle" font-weight="normal" fill="#4a4a4a">2,2</text>
<text x="540.0" y="919.8" font-size="12" text-anchor="middle" font-weight="normal" fill="#4a4a4a">3</text>
<text x="814.0" y="919.8" font-size="12" text-anchor="middle" font-weight="normal" fill="#4a4a4a">5,2</text>
<text x="270.3" y="901.2" font-size="12" text-anchor="middle" font-weight="bold" fill="#262626" textLength="51.4" lengthAdjust="spacingAndGlyphs">DN65 PN10</text>
<text x="352.8" y="901.2" font-size="12.5" text-anchor="middle" font-weight="normal" fill="#4a4a4a">65 mm</text>
<text x="598.8" y="901.4" font-size="12" text-anchor="middle" font-weight="normal" fill="#4a4a4a">2850</text>
<text x="878.0" y="901.4" font-size="12" text-anchor="middle" font-weight="normal" fill="#4a4a4a">50</text>
<circle cx="18.6" cy="937.2" r="1.7" fill="#3a3a3a"/>
<text x="27.7" y="941.0" font-size="11" text-anchor="start" font-weight="normal" fill="#5a5a5a" font-style="italic" textLength="144" lengthAdjust="spacingAndGlyphs">Available explosion proof pump</text>

<path d="M301.6,935.4 A6.9,6.9 0 1 0 301.6,949.2" fill="none" stroke="#111" stroke-width="2.5"/>
<path d="M315.4,935.4 A6.9,6.9 0 1 0 315.4,949.2 M308.4,942.3 L314.2,942.3" fill="none" stroke="#111" stroke-width="2.5"/>
<text x="317.4" y="951.4" font-size="9" text-anchor="start" font-weight="bold" fill="#5a5a5a" textLength="20" lengthAdjust="spacingAndGlyphs">0477</text>
<text x="294.8" y="964.0" font-size="8.8" text-anchor="start" font-weight="bold" fill="#4a4a4a" textLength="85" lengthAdjust="spacingAndGlyphs">EPT 17 ATEX 2701 X</text>
<path d="M380.4,942.8 L384.6,934.1 L395.6,934.1 L399.8,942.8 L395.6,951.4 L384.6,951.4 Z" fill="none" stroke="#1c1c1c" stroke-width="1.5" stroke-linejoin="round"/>
<path d="M388.6,937.9 L385.4,937.9 L385.4,947.4 L388.4,947.4 M385.4,942.7 L387.6,942.7" fill="none" stroke="#1c1c1c" stroke-width="1.4"/>
<path d="M390.8,942.7 L395,947.7 M395,942.7 L390.8,947.7" fill="none" stroke="#1c1c1c" stroke-width="1.5"/>
<text x="406.3" y="946.8" font-size="9.5" text-anchor="start" font-weight="normal" fill="#555" textLength="18.2" lengthAdjust="spacingAndGlyphs">II 2G</text>
<text x="430.7" y="940.4" font-size="8.6" text-anchor="start" font-weight="normal" fill="#555" textLength="63" lengthAdjust="spacingAndGlyphs">Ex db IIB T4 Gb</text>
<text x="430.7" y="950.4" font-size="8.6" text-anchor="start" font-weight="normal" fill="#555" textLength="57.6" lengthAdjust="spacingAndGlyphs">Ex h IIB T4 Gb</text>
<text x="430.7" y="961.0" font-size="8.6" text-anchor="start" font-weight="normal" fill="#555" textLength="44.3" lengthAdjust="spacingAndGlyphs">0°≤ Ta ≤ 40°</text>
<defs><radialGradient id="imp" cx="0.45" cy="0.42" r="0.62"><stop offset="0" stop-color="#cfcfcf"/><stop offset="0.75" stop-color="#bababa"/><stop offset="1" stop-color="#a4a4a4"/></radialGradient></defs>
<ellipse cx="851.2" cy="55.4" rx="34.1" ry="28.4" fill="#6e6e6e"/>
<ellipse cx="850.5" cy="54.5" rx="34.2" ry="28.5" fill="url(#imp)"/>
<path d="M833.4,26.6 L834.8,28.2 L833.5,32.5 L830.8,40.5 L829.0,41.2 L828.4,38.0 L830.3,31.0 Z" fill="#262626" stroke="#262626" stroke-width="0.7" stroke-linejoin="round"/>
<path d="M840.4,40.5 L843.5,33.5 L848.0,28.6 L856.0,26.2 L863.0,25.0 L866.2,25.4 L867.2,28.0 L866.9,30.8 L865.6,32.5 L856.8,33.6 L851.0,36.3 L847.0,40.5 L845.2,46.0 L842.2,47.6 L840.2,45.0 Z" fill="#262626" stroke="#262626" stroke-width="0.7" stroke-linejoin="round"/>
<path d="M848.0,40.5 L852.0,37.0 L856.8,35.2 L862.0,35.0 L867.8,36.0 L876.6,39.5 L883.2,44.0 L884.8,48.4 L884.7,53.8 L883.0,53.6 L878.8,46.6 L870.0,42.8 L861.2,41.9 L852.4,42.8 L848.4,45.0 Z" fill="#262626" stroke="#262626" stroke-width="0.7" stroke-linejoin="round"/>
<path d="M852.4,46.4 L857.0,45.3 L863.4,45.2 L869.1,48.4 L872.6,55.0 L873.1,60.8 L871.6,62.2 L867.8,56.5 L866.3,52.8 L860.3,50.2 L854.6,49.4 Z" fill="#262626" stroke="#262626" stroke-width="0.7" stroke-linejoin="round"/>
<path d="M817.0,55.2 L827.2,59.8 L840.4,62.0 L848.0,61.4 L854.0,59.4 L858.0,56.3 L860.2,57.4 L857.0,62.2 L850.0,65.6 L840.4,67.9 L827.2,66.6 L818.4,63.5 Z" fill="#262626" stroke="#262626" stroke-width="0.7" stroke-linejoin="round"/>
<path d="M832.8,73.0 L840.4,72.6 L848.0,70.8 L854.4,66.3 L858.9,58.6 L858.8,52.6 L862.9,52.4 L863.5,60.8 L860.4,68.8 L854.6,75.0 L848.0,78.5 L842.6,80.2 L833.7,79.4 Z" fill="#262626" stroke="#262626" stroke-width="0.7" stroke-linejoin="round"/>
<path d="M867.8,70.9 L875.3,65.0 L876.2,68.7 L874.4,72.8 L868.2,77.6 Z" fill="#262626" stroke="#262626" stroke-width="0.7" stroke-linejoin="round"/>
<path d="M826.6,43.0 L829.5,46.0 L833.0,50.5 L836.0,54.0 L838.6,55.6 L840.2,53.5 L836.6,49.8 L832.0,44.8 L829.0,41.4 Z" fill="#262626" stroke="#262626" stroke-width="0.7" stroke-linejoin="round"/>
<path d="M843,49 A7,6.4 0 0 1 856,50" fill="none" stroke="#3a3a3a" stroke-width="1.3"/>
<path d="M855,57 A7.5,6.8 0 0 1 843,56.5" fill="none" stroke="#3a3a3a" stroke-width="1.3"/>
<circle cx="849.3" cy="51.8" r="4.6" fill="#c9c9c9" stroke="#555" stroke-width="1.1"/>
<circle cx="849.3" cy="51.8" r="1.9" fill="#1e1e1e"/>
</svg>
</body></html>
